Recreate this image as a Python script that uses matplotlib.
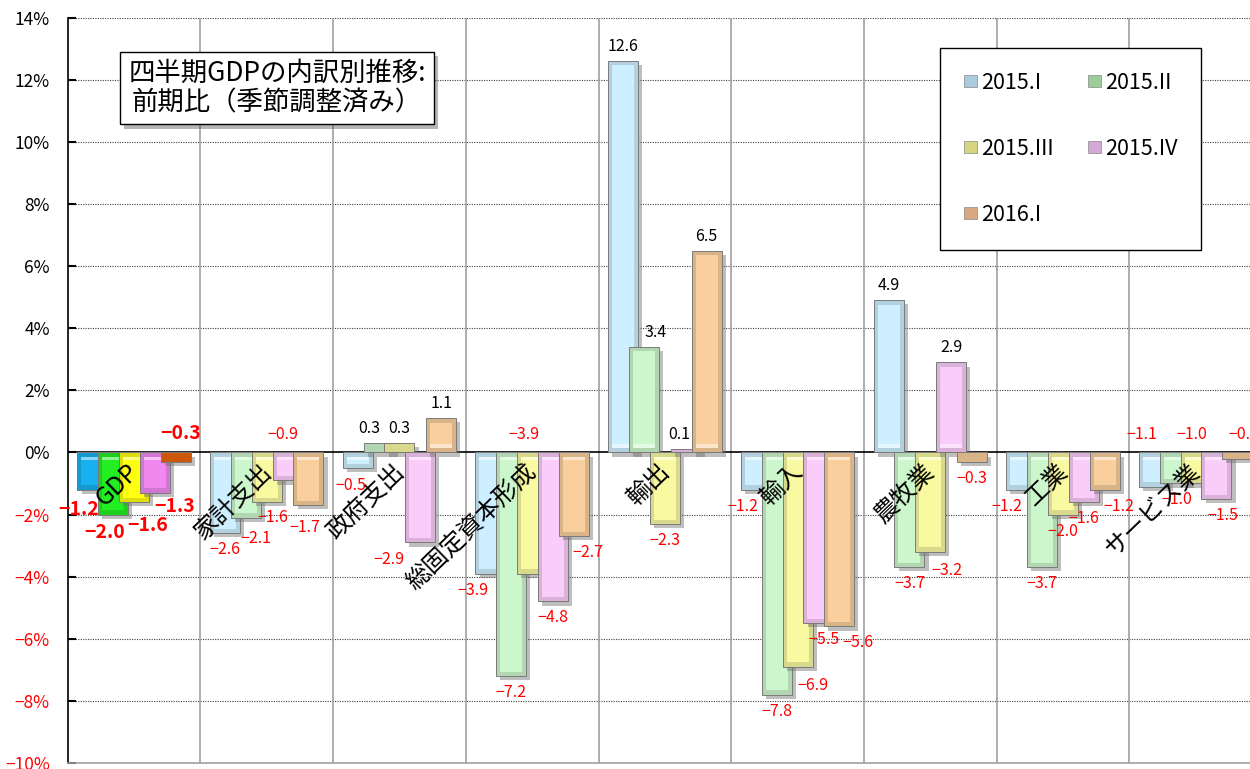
import numpy as np
import matplotlib
matplotlib.use('Agg')
import matplotlib.pyplot as plt
import matplotlib.patheffects as pe
from matplotlib.patches import Patch

plt.rcParams['font.family'] = ['Noto Sans CJK JP', 'DejaVu Sans']

# data (前期比, %)
categories = ['GDP', '家計支出', '政府支出', '総固定資本形成', '輸出', '輸入', '農牧業', '工業', 'サービス業']
series_names = ['2015.I', '2015.II', '2015.III', '2015.IV', '2016.I']
q2015_1 = [-1.2, -2.6, -0.5, -3.9, 12.6, -1.2, 4.9, -1.2, -1.1]
q2015_2 = [-2.0, -2.1, 0.3, -7.2, 3.4, -7.8, -3.7, -3.7, -1.0]
q2015_3 = [-1.6, -1.6, 0.3, -3.9, -2.3, -6.9, -3.2, -2.0, -1.0]
q2015_4 = [-1.3, -0.9, -2.9, -4.8, 0.1, -5.5, 2.9, -1.6, -1.5]
q2016_1 = [-0.3, -1.7, 1.1, -2.7, 6.5, -5.6, -0.3, -1.2, -0.2]
series = [q2015_1, q2015_2, q2015_3, q2015_4, q2016_1]
yticks = list(range(-10, 15, 2))

# styles
pastel = ['#CDEFFF', '#CCF6CC', '#F9F9A2', '#F9CCF9', '#F9CF9E']
gdp_colors = ['#18B0EE', '#22EE22', '#FFFF10', '#F088F0', '#E8640C']
legend_colors = ['#A9CADF', '#9ACD9A', '#D6D67E', '#D6A8D6', '#D8A880']
# labels that sit above the zero line instead of at the bar end
labels_above = {(0, 4), (1, 3), (3, 2), (8, 0), (8, 1), (8, 4)}
# nudges of some labels (dx, dy) in pixels
label_shift = {(0, 0): (-14, -10), (0, 1): (-9, -8), (0, 2): (14, -14), (0, 3): (20, -4), (0, 4): (5, 9),
               (1, 1): (10, -12), (1, 2): (6, -7), (1, 3): (-5, 9), (1, 4): (-4, -14),
               (2, 0): (-7, -9), (2, 1): (-9, 6), (2, 3): (-31, -9),
               (3, 0): (-18, -8), (3, 2): (-8, 9), (3, 4): (14, -8),
               (4, 1): (12, 6), (4, 3): (-6, 6),
               (5, 0): (-13, -8), (5, 2): (15, -10), (5, 3): (6, -8), (5, 4): (19, -8),
               (6, 2): (17, -10),
               (7, 0): (-14, -8), (7, 4): (14, -8),
               (8, 0): (-12, 9), (8, 1): (17, 9), (8, 2): (-19, -8), (8, 3): (6, -8), (8, 4): (7, 9)}


def darker(c, f):
    rgb = np.array(matplotlib.colors.to_rgb(c))
    return tuple(rgb * (1 - f))


def fmt(v):
    return ('%.1f' % v).replace('-', '−')


fig = plt.figure(figsize=(12.5, 7.69), dpi=100)
ax = fig.add_axes([67.7 / 1250, 1 - 763 / 769, 1 - 67.7 / 1250, (763 - 17.6) / 769])

x = np.arange(len(categories))
width = 0.226
step = 0.157
shadow = [pe.SimplePatchShadow(offset=(3, -3), shadow_rgbFace='#707070', alpha=0.45), pe.Normal()]

for k, vals in enumerate(series):
    for i, v in enumerate(vals):
        base = gdp_colors[k] if i == 0 else pastel[k]
        xc = x[i] + (k - 2) * step
        z = 3 + k * 0.1
        ax.bar(xc, v, width, color=darker(base, 0.13), edgecolor='#7A7A7A', linewidth=0.7,
               zorder=z, path_effects=shadow)
        if abs(v) > 0.4:
            dy = 0.14 * np.sign(v)
            ax.bar(xc, v - 2 * dy, width - 0.06, bottom=dy, color=base, linewidth=0, zorder=z + 0.01)
            ax.bar(xc, 0.12 * np.sign(v), width - 0.06, bottom=dy, color='white', alpha=0.5,
                   linewidth=0, zorder=z + 0.02)

        # data label
        col = 'black' if v >= 0 else 'red'
        size = 14 if i == 0 else 11.5
        weight = 'bold' if i == 0 else 'normal'
        above = (i, k) in labels_above
        if above or v >= 0:
            sx, sy = label_shift.get((i, k), (0, 6))
            va = 'bottom'
        else:
            sx, sy = label_shift.get((i, k), (0, -8))
            va = 'top'
        ax.annotate(fmt(v), (xc, 0 if above else v), xytext=(sx, sy), textcoords='offset pixels',
                    ha='center', va=va, color=col, fontsize=size, fontweight=weight, zorder=10)

# category names written across the bars
for i, name in enumerate(categories):
    ax.text(x[i] - 0.06, -0.2, name, rotation=44, rotation_mode='anchor', ha='right', va='top',
            fontsize=17.5, color='black', zorder=12)

ax.set_xlim(-0.5, -0.5 + (1250 - 67.7) / 132.7)
ax.set_ylim(-10, 14)

# grid
for t in yticks:
    if t not in (0, -10):
        ax.axhline(t, color='#404040', linestyle=(0, (1, 1.2)), linewidth=0.8, zorder=1)
for b in np.arange(0.5, 9, 1):
    ax.axvline(b, color='#A0A0A0', linewidth=1.2, zorder=1)
ax.axhline(0, color='black', linewidth=1.2, zorder=2)

ax.set_xticks([])
ax.set_yticks(yticks)
ax.set_yticklabels([('%d%%' % t).replace('-', '−') for t in yticks], fontsize=12.5)
for lab, t in zip(ax.get_yticklabels(), yticks):
    lab.set_color('red' if t < 0 else 'black')
ax.tick_params(axis='y', direction='in', length=6, width=1.5, pad=13)
ax.spines['top'].set_visible(False)
ax.spines['right'].set_visible(False)
ax.spines['left'].set_color('black')
ax.spines['left'].set_linewidth(1.2)
ax.spines['bottom'].set_color('#A0A0A0')
ax.spines['bottom'].set_linewidth(1.2)

# title box
title = fig.text(277 / 1250, 1 - 88 / 769, '四半期GDPの内訳別推移:\n前期比（季節調整済み）',
                 ha='center', va='center', multialignment='center', fontsize=19, linespacing=1.15,
                 bbox=dict(boxstyle='square,pad=0.3', facecolor='white', edgecolor='black', linewidth=1))
title.get_bbox_patch().set_path_effects([pe.SimplePatchShadow(offset=(3, -3), alpha=0.4), pe.Normal()])

# legend (column-wise order)
order = [0, 2, 4, 1, 3]
handles = [Patch(facecolor=legend_colors[j], edgecolor='#888888', linewidth=0.5) for j in order]
leg = ax.legend(handles, [series_names[j] for j in order], ncol=2, loc='upper left',
                bbox_to_anchor=(940 / 1250, 1 - 48 / 769), bbox_transform=fig.transFigure,
                borderaxespad=0, fontsize=15.5, frameon=True, fancybox=False, edgecolor='black',
                framealpha=1, borderpad=1.1, labelspacing=2.05, columnspacing=1.6, handlelength=0.6,
                handleheight=0.5, handletextpad=0.2)
leg.get_frame().set_linewidth(1)
leg.set_zorder(20)

fig.savefig('out.png', dpi=100)
